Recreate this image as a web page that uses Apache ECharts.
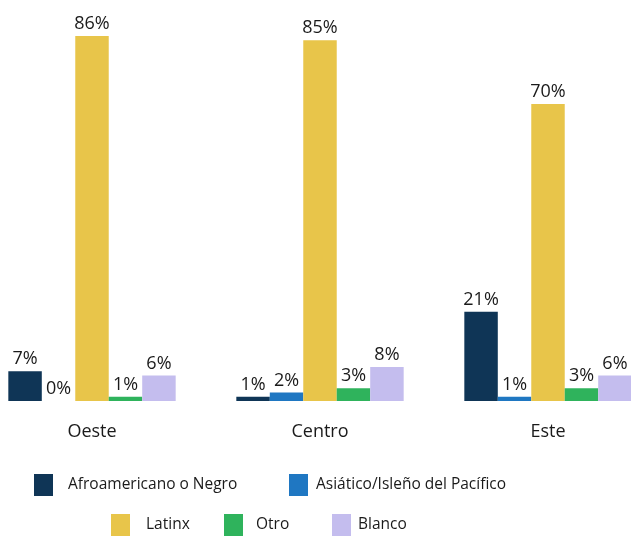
<!DOCTYPE html>
<html><head><meta charset="utf-8">
<script src="https://cdn.jsdelivr.net/npm/echarts@6/dist/echarts.min.js"></script>
<style>html,body{margin:0;padding:0;background:#fff}#c{width:631px;height:536px}</style>
</head><body><div id="c"></div>
<script>
const categories = ['Oeste', 'Centro', 'Este'];
const seriesNames = ['Afroamericano o Negro', 'Asiático/Isleño del Pacífico', 'Latinx', 'Otro', 'Blanco'];
const afro = [7, 1, 21];
const asiatico = [0, 2, 1];
const latinx = [86, 85, 70];
const otro = [1, 3, 3];
const blanco = [6, 8, 6];
const values = [afro, asiatico, latinx, otro, blanco];
const colors = ['#0f3556', '#1f77c2', '#e8c54a', '#2fb35c', '#c4bdee'];
const font = 'Open Sans';

const chart = echarts.init(document.getElementById('c'));
const legendPos = [
  {left: 34, top: 474},
  {left: 289, top: 474},
  {left: 111, top: 514},
  {left: 224, top: 514},
  {left: 332, top: 514}
];
const legendGaps = [15, 8, 16, 13, 7];
chart.setOption({
  animation: false,
  textStyle: {fontFamily: font},
  grid: {left: -22, right: -31, top: 19, bottom: 135, containLabel: false, outerBoundsMode: 'none'},
  xAxis: {
    type: 'category', data: categories,
    axisLine: {show: false}, axisTick: {show: false},
    axisLabel: {color: '#1a1a1a', fontSize: 18, margin: 22, fontFamily: font}
  },
  yAxis: {type: 'value', min: 0, max: 90, show: false, splitLine: {show: false}},
  legend: seriesNames.map((n, i) => ({
    data: [n], left: legendPos[i].left, top: legendPos[i].top,
    itemWidth: 19, itemHeight: 22, itemGap: 0, icon: 'rect',
    textStyle: {fontSize: 15.5, color: '#1a1a1a', fontFamily: font, padding: [2, 0, 0, legendGaps[i] - 5]},
    padding: 0
  })),
  series: seriesNames.map((n, i) => ({
    name: n, type: 'bar', data: values[i],
    barGap: '0%', barCategoryGap: '26.6%',
    itemStyle: {color: colors[i]},
    label: {show: true, position: 'top', distance: 3, formatter: '{c}%', fontSize: 18, color: '#1a1a1a', fontFamily: font}
  }))
});
</script></body></html>
